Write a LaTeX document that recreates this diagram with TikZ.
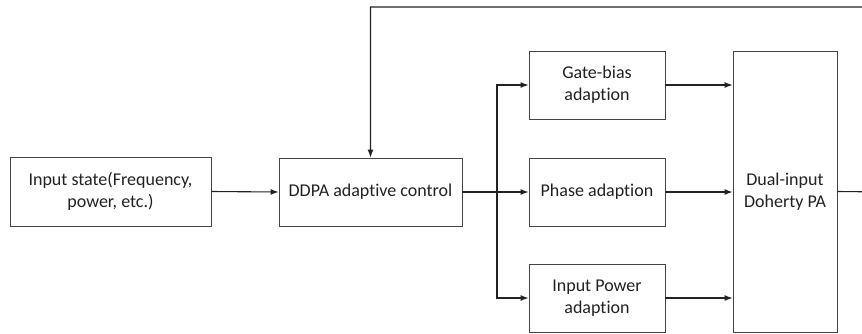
\documentclass[tikz,border=0pt]{standalone}
\usepackage{fontspec}
\setmainfont[Ligatures=NoCommon]{Carlito}
\usetikzlibrary{arrows.meta}
\definecolor{linec}{HTML}{222222}
\definecolor{boxc}{HTML}{444444}
\begin{document}
\begin{tikzpicture}[x=1pt,y=-1pt,
  blk/.style={draw=boxc,line width=0.9pt,fill=white,inner sep=2pt,align=center,
    font=\fontsize{18}{22}\selectfont,text=linec},
  conn/.style={draw=linec,line width=1.1pt},
  arr/.style={conn,-{Latex[length=8pt,width=6pt]}}]
\useasboundingbox (0,0) rectangle (862,333);
\node[blk,minimum width=201pt,minimum height=69pt] (inp) at (110.5,191.5) {Input state(Frequency,\\power, etc.)};
\node[blk,minimum width=183pt,minimum height=68pt] (ctrl) at (370.5,192) {DDPA adaptive control};
\node[blk,minimum width=136pt,minimum height=68pt] (gate) at (597,85) {Gate-bias\\adaption};
\node[blk,minimum width=136pt,minimum height=68pt] (phase) at (597,192) {Phase adaption};
\node[blk,minimum width=136pt,minimum height=68pt] (ipow) at (597,298) {Input Power\\adaption};
\node[blk,minimum width=104pt,minimum height=281pt] (pa) at (785,191.5) {Dual-input\\Doherty PA};
\coordinate (br) at (497,192);
\coordinate (out) at (890,192);
\coordinate (top) at (890,7);
\draw[arr] (inp.east) -- (ctrl.west);
\draw[conn] (ctrl.east) -- (br);
\draw[arr] (br) -- (phase.west);
\draw[arr] (br) |- (gate.west);
\draw[arr] (br) |- (ipow.west);
\draw[arr] (gate.east) -- (gate.east -| pa.west);
\draw[arr] (phase.east) -- (phase.east -| pa.west);
\draw[arr] (ipow.east) -- (ipow.east -| pa.west);
\draw[arr] (pa.east) -- (out) -- (top) -| (ctrl.north);
\end{tikzpicture}
\end{document}
